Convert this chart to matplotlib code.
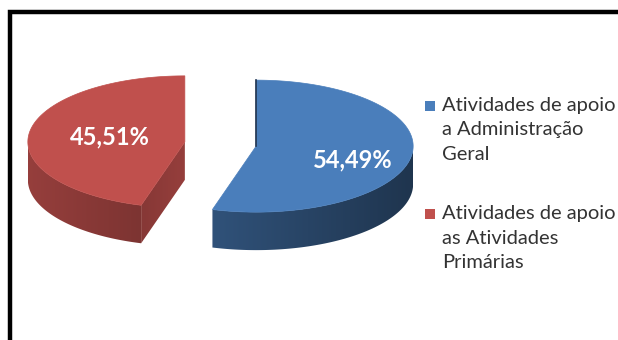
import numpy as np
import matplotlib
matplotlib.use("Agg")
import matplotlib.pyplot as plt
from matplotlib.patches import Polygon, Rectangle
from matplotlib.colors import to_rgb

# - Data

shares = [54.49, 45.51]
share_labels = ["54,49%", "45,51%"]
legend_labels = [
    ["Atividades de apoio", "a Administração", "Geral"],
    ["Atividades de apoio", "as Atividades", "Primárias"],
]
colors = ["#4a7ebb", "#c0504d"]

# - Layout (pixel units, y grows downwards)

W, H = 618, 340
center = (220.5, 144.0)
rx, ry = 157.0, 66.0
depth = 38.0
explode = 36.0
label_r = [0.62, 0.48]
label_dy = [8, 0]

plt.rcParams["font.family"] = ["Lato", "DejaVu Sans"]

fig = plt.figure(figsize=(W / 100, H / 100), dpi=100)
ax = fig.add_axes([0, 0, 1, 1])
ax.set_xlim(0, W)
ax.set_ylim(H, 0)
ax.axis("off")


def rim(cx, cy, t):
    # angle t measured clockwise from 12 o'clock
    return cx + rx * np.sin(t), cy - ry * np.cos(t)


def gradient_fill(pts, color, x0, x1, f0, f1):
    # horizontal shading of a polygon, brightness factor f0 at x0 to f1 at x1
    pts = np.asarray(pts)
    poly = Polygon(pts, closed=True, facecolor="none", edgecolor="none")
    ax.add_patch(poly)
    f = np.linspace(f0, f1, 256)
    img = np.array(to_rgb(color))[None, None, :] * f[None, :, None]
    ymin, ymax = pts[:, 1].min() - 1, pts[:, 1].max() + 1
    im = ax.imshow(img, extent=(x0, x1, ymax, ymin), aspect="auto",
                   interpolation="bilinear", zorder=1)
    im.set_clip_path(poly)


# - Pie slices

fractions = np.array(shares) / sum(shares)
start = 0.0
for i, frac in enumerate(fractions):
    t0 = start * 2 * np.pi
    t1 = (start + frac) * 2 * np.pi
    start += frac
    mid = (t0 + t1) / 2
    cx = center[0] + explode * np.sin(mid)
    cy = center[1] - explode * np.cos(mid) * ry / rx
    col = colors[i]

    # outer wall, only the front half (90..270 deg) faces the viewer
    lo, hi = max(t0, np.pi / 2), min(t1, 3 * np.pi / 2)
    if hi > lo:
        ts = np.linspace(lo, hi, 120)
        xs, ys = rim(cx, cy, ts)
        wall = list(zip(xs, ys)) + list(zip(xs[::-1], ys[::-1] + depth))
        # light from the left: f = 0.6 + 0.18 * (-sin t), linear in x
        xl, xr = cx - rx, cx + rx
        gradient_fill(wall, col, xl, xr, 0.78, 0.42)

    # radial cut face at the start edge shows when it faces the front
    if np.sin(t0) < -0.01:
        xe, ye = rim(cx, cy, t0)
        cut = [(cx, cy), (xe, ye), (xe, ye + depth), (cx, cy + depth)]
        gradient_fill(cut, col, xe, cx, 0.70, 0.78)

    # top face
    ts = np.linspace(t0, t1, 200)
    xs, ys = rim(cx, cy, ts)
    pts = [(cx, cy)] + list(zip(xs, ys))
    ax.add_patch(Polygon(pts, closed=True, facecolor=col, edgecolor=col,
                         lw=0.5, zorder=2))

    if t0 == 0:
        xt, yt = rim(cx, cy, 0.0)
        ax.plot([xt, cx], [yt, cy], color=(0.12, 0.2, 0.31), lw=1.2, zorder=2)

    # value label
    lx = cx + label_r[i] * rx * np.sin(mid)
    ly = cy - label_r[i] * ry * np.cos(mid) + label_dy[i]
    ax.text(lx, ly, share_labels[i], color="white", fontsize=17,
            fontweight="bold", ha="center", va="center", zorder=3)

# - Legend

legend_x, legend_y = 425, 106
for i, lines in enumerate(legend_labels):
    y0 = legend_y + i * 108
    ax.add_patch(Rectangle((legend_x, y0 - 5), 10, 10, facecolor=colors[i],
                           edgecolor="none"))
    for j, line in enumerate(lines):
        ax.text(legend_x + 17, y0 + j * 24, line, fontsize=14.5,
                color="#333333", ha="left", va="center")

# - Frame
ax.plot([10, 10, W + 5], [H + 5, 12, 12], color="black", lw=3.2,
        solid_joinstyle="miter", zorder=4)

ax.set_xlim(0, W)
ax.set_ylim(H, 0)
fig.savefig("out.png", dpi=100)
